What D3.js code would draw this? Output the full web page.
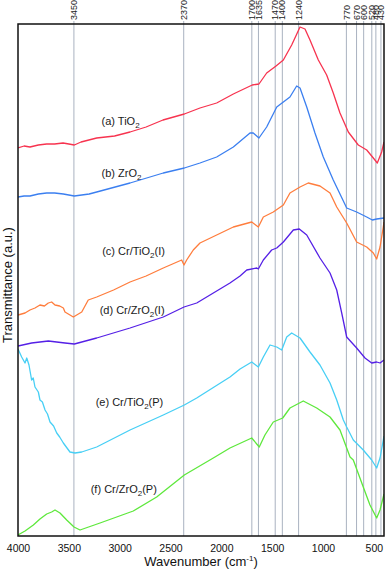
<!DOCTYPE html>
<html>
<head>
<meta charset="utf-8">
<script src="https://cdn.jsdelivr.net/npm/d3@7"></script>
<style>
  html, body { margin: 0; padding: 0; background: #fff; }
  svg { display: block; font-family: "Liberation Sans", Arial, sans-serif; }
</style>
</head>
<body>
<svg id="chart" width="392" height="571"></svg>
<script>
// ---- Data (wavenumber cm-1, transmittance a.u.) ----
const peakLines = [3450, 2370, 1700, 1635, 1470, 1400, 1240, 770, 670, 600, 520, 480, 430];
const xTicks = [4000, 3500, 3000, 2500, 2000, 1500, 1000, 500];

const tio2 = [[4000,388],[3940,390],[3882,389],[3800,391],[3718,392],[3640,392],[3557,393],[3500,392],[3446,391],[3380,394],[3226,398],[3050,400],[2898,404],[2740,409],[2574,416],[2364,422],[2210,428],[2046,433],[1882,442],[1696,451],[1630,452],[1554,463],[1462,470],[1390,476],[1308,491],[1226,509],[1177,507],[1128,496],[1046,476],[964,461],[899,443],[833,423],[751,404],[653,391],[570,386],[505,378],[466,373],[423,384],[400,394]];

const zro2 = [[4000,339],[3940,340],[3882,340],[3800,342],[3718,343],[3640,343],[3554,342],[3446,340],[3300,342],[3226,344],[2898,353],[2571,363],[2364,368],[2210,373],[2046,379],[1882,389],[1718,403],[1686,403],[1630,398],[1554,409],[1455,429],[1325,439],[1259,450],[1226,448],[1160,429],[1079,403],[997,379],[899,356],[767,328],[669,324],[570,319],[515,316],[472,317],[400,318]];

const crTiO2I = [[4000,221],[3931,223],[3882,226],[3833,228],[3784,231],[3740,230],[3702,233],[3669,234],[3636,231],[3590,230],[3554,228],[3538,224],[3456,219],[3439,220],[3373,224],[3309,236],[3226,239],[3060,246],[2898,254],[2740,260],[2571,268],[2390,276],[2367,271],[2341,276],[2276,286],[2210,293],[2046,301],[1882,309],[1701,314],[1636,309],[1587,319],[1489,324],[1390,331],[1325,343],[1226,349],[1145,353],[1030,350],[931,343],[865,329],[767,313],[669,294],[570,289],[505,283],[472,277],[439,289],[407,309],[400,314]];

const crZrO2I = [[4000,190],[3866,193],[3702,195],[3538,193],[3446,192],[3226,198],[2898,208],[2571,219],[2367,229],[2242,233],[1915,253],[1816,260],[1750,266],[1652,268],[1636,267],[1587,276],[1505,286],[1455,288],[1390,294],[1292,306],[1233,307],[1160,301],[1030,278],[931,263],[865,246],[816,223],[767,199],[669,188],[587,178],[521,173],[472,174],[439,173],[400,176]];

const crTiO2P = [[4000,187],[3964,179],[3931,173],[3914,178],[3892,171],[3866,156],[3850,158],[3833,149],[3800,144],[3784,136],[3760,134],[3734,126],[3710,122],[3685,114],[3650,110],[3619,103],[3590,99],[3554,93],[3489,84],[3439,83],[3373,84],[3226,89],[2898,106],[2571,121],[2364,131],[2242,138],[1915,159],[1816,167],[1701,174],[1636,169],[1587,179],[1521,191],[1455,189],[1406,186],[1357,199],[1308,203],[1226,198],[1128,184],[1030,171],[931,153],[865,136],[800,116],[767,109],[702,96],[604,86],[521,76],[472,68],[439,78],[407,96],[400,100]];

const crZrO2P = [[4000,1],[3931,5],[3849,11],[3784,17],[3718,22],[3669,24],[3636,26],[3587,23],[3521,16],[3449,9],[3390,6],[3193,13],[2866,25],[2636,39],[2364,61],[2079,78],[1915,88],[1701,98],[1627,89],[1571,101],[1489,114],[1396,118],[1325,128],[1194,135],[1062,128],[931,119],[833,106],[734,79],[702,76],[604,49],[538,31],[472,18],[439,26],[407,39],[400,42]];

const seriesColors = ["#f7334f", "#3b7ff0", "#ff7d3d", "#5520e6", "#47cff5", "#5ee83c"];
// label parts: [prefix, subscript, suffix]; anchor positions in data units
const labelParts = [["(a) TiO","2",""],["(b) ZrO","2",""],["(c) Cr/TiO","2","(I)"],["(d) Cr/ZrO","2","(I)"],["(e) Cr/TiO","2","(P)"],["(f) Cr/ZrO","2","(P)"]];
const labelAnchors = [[3178,411],[3178,359],[3172,281],[3197,222],[3236,130],[3285,43]];

const allSeries = [tio2, zro2, crTiO2I, crZrO2I, crTiO2P, crZrO2P];

// ---- Layout ----
const svg = d3.select("#chart");
const plot = {left: 18, right: 384, top: 24, bottom: 536};

const x = d3.scaleLinear().domain([4000, 400]).range([plot.left, plot.right]);
const y = d3.scaleLinear().domain([0, 512]).range([plot.bottom, plot.top]);

svg.append("defs").append("clipPath").attr("id", "clip")
  .append("rect").attr("x", plot.left).attr("y", plot.top)
  .attr("width", plot.right - plot.left).attr("height", plot.bottom - plot.top);

// peak reference lines
svg.append("g").selectAll("line").data(peakLines).join("line")
  .attr("x1", d => x(d)).attr("x2", d => x(d))
  .attr("y1", plot.top - 3).attr("y2", plot.bottom)
  .attr("stroke", "#a9b2c0").attr("stroke-width", 1);

// peak labels (rotated)
svg.append("g").selectAll("text").data(peakLines).join("text")
  .attr("transform", d => `translate(${x(d)},${plot.top - 4}) rotate(-90)`)
  .attr("dy", "0.35em")
  .attr("text-anchor", "start")
  .attr("font-size", "9px")
  .attr("fill", "#222")
  .text(d => d);

// curves
const line = d3.line().x(d => x(d[0])).y(d => y(d[1]));
svg.append("g").attr("clip-path", "url(#clip)")
  .selectAll("path").data(allSeries).join("path")
  .attr("d", line)
  .attr("fill", "none")
  .attr("stroke", (d, i) => seriesColors[i])
  .attr("stroke-width", 1.3)
  .attr("stroke-linejoin", "round");

// series labels
const lbl = svg.append("g").selectAll("text").data(labelParts).join("text")
  .attr("x", (d, i) => x(labelAnchors[i][0]))
  .attr("y", (d, i) => y(labelAnchors[i][1]))
  .attr("font-size", "11px")
  .attr("fill", "#1a1a1a");
lbl.append("tspan").text(d => d[0]);
lbl.append("tspan").attr("font-size", "8px").attr("dy", "3").text(d => d[1]);
lbl.append("tspan").attr("dy", "-3").text(d => d[2]);

// bottom axis (labels only, no tick marks)
const xAxis = d3.axisBottom(x).tickValues(xTicks).tickFormat(d3.format("d")).tickSize(0).tickPadding(9);
const gx = svg.append("g").attr("transform", `translate(0,${plot.bottom})`).call(xAxis);
gx.select(".domain").remove();
gx.selectAll("text").attr("font-size", "10.5px").attr("fill", "#111")
  .attr("font-family", "Liberation Sans, Arial, sans-serif");

// frame
svg.append("rect")
  .attr("x", plot.left).attr("y", plot.top)
  .attr("width", plot.right - plot.left).attr("height", plot.bottom - plot.top)
  .attr("fill", "none").attr("stroke", "#111").attr("stroke-width", 1.5);

// x title
const xt = svg.append("text")
  .attr("x", (plot.left + plot.right) / 2).attr("y", 566)
  .attr("text-anchor", "middle").attr("font-size", "13px").attr("fill", "#111");
xt.append("tspan").text("Wavenumber (cm");
xt.append("tspan").attr("font-size", "8px").attr("dy", "-5").text("-1");
xt.append("tspan").attr("dy", "5").text(")");

// y title
svg.append("text")
  .attr("transform", `translate(12,285) rotate(-90)`)
  .attr("text-anchor", "middle").attr("font-size", "13px").attr("fill", "#111")
  .text("Transmittance (a.u.)");
</script>
</body>
</html>
